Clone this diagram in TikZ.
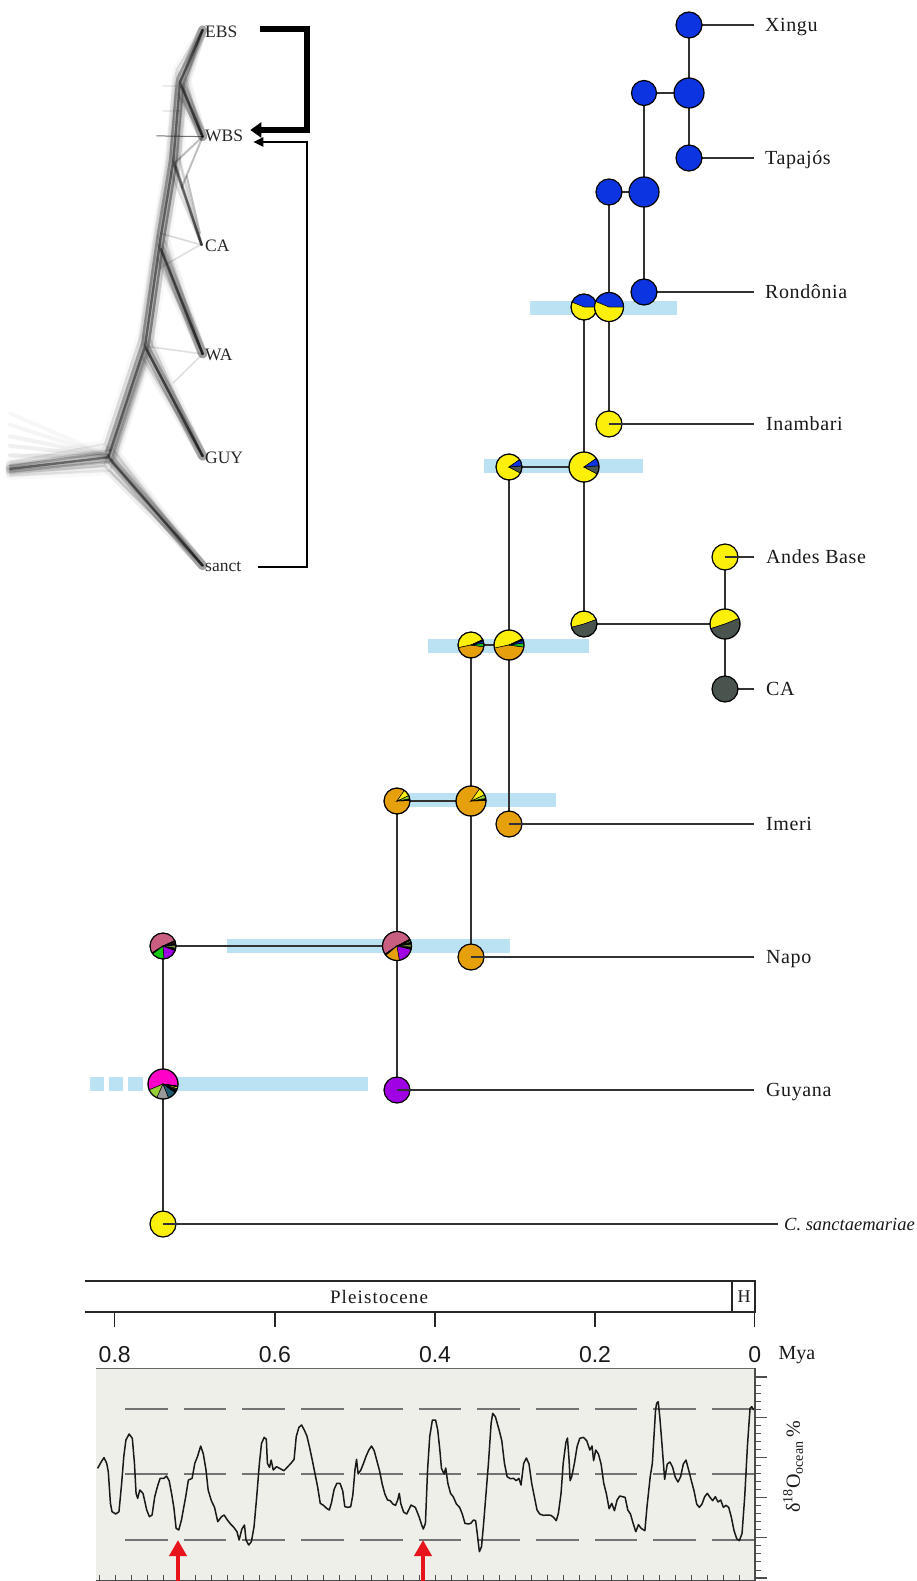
\documentclass[tikz,border=0pt]{standalone}
\usepackage{fontspec}
\setmainfont{Liberation Serif}
\newfontfamily\tipfam[LetterSpace=3]{Liberation Serif}
\newfontfamily\pleifam[LetterSpace=6]{Liberation Serif}
\newfontfamily\axisfam{Liberation Sans}
\usetikzlibrary{arrows.meta}
\pgfdeclarelayer{bars}
\pgfdeclarelayer{edges}
\pgfsetlayers{bars,edges,main}
\definecolor{nblue}{RGB}{12,52,225}
\definecolor{nyellow}{RGB}{252,240,10}
\definecolor{norange}{RGB}{230,160,12}
\definecolor{ngray}{RGB}{74,84,78}
\definecolor{npurple}{RGB}{160,0,228}
\definecolor{nmauve}{RGB}{200,95,128}
\definecolor{nmagenta}{RGB}{255,0,200}
\definecolor{ngreen}{RGB}{20,200,20}
\definecolor{nygreen}{RGB}{150,208,50}
\definecolor{nteal}{RGB}{30,90,110}
\definecolor{nolive}{RGB}{110,140,60}
\definecolor{barblue}{RGB}{187,226,242}
\definecolor{panelbg}{RGB}{238,239,233}
\definecolor{arrowred}{RGB}{232,20,28}
\definecolor{linegray}{RGB}{50,50,50}
\newcommand{\tipfont}{\tipfam\fontsize{20}{24}\selectfont}
\newcommand{\treefont}{\fontsize{17.5}{20}\selectfont}
\newcommand{\pw}[3]{\filldraw[fill=#3,draw=black,line width=0.5pt] (0,0) -- (#1:\pr) arc[start angle=#1,end angle=#2,radius=\pr] -- cycle;}
\newcommand{\pienode}[5]{%
  \node[state, minimum size=#4*2pt] (#1) at (#2,#3) {};
  \begin{scope}[shift={(#2,#3)}, yscale=-1]\def\pr{#4}#5\end{scope}
  \draw[line width=1.2pt] (#2,#3) circle[radius=#4];}
\begin{document}
\begin{tikzpicture}[x=1pt,y=-1pt,
  branch/.style={draw=linegray, line width=1.6pt},
  state/.style={circle, inner sep=0pt, outer sep=0pt},
  tip/.style={state, draw=black, line width=1.2pt, minimum size=26pt},
  tiplabel/.style={anchor=west, inner sep=0pt, text height=13pt, text depth=0pt, font=\tipfont, text=black!90},
  treelabel/.style={anchor=base west, inner sep=0pt, text height=11pt, text depth=0pt, font=\treefont, text=black!85},
  axisnum/.style={inner sep=0pt, font=\axisfam\fontsize{23}{26}\selectfont, text=black!90},
  dashline/.style={draw=black!55, line width=1.1pt, dash pattern=on 42.7pt off 16pt}]
\useasboundingbox (0,0) rectangle (917,1581);

% ---------------- DensiTree (upper left) ----------------
\begin{scope}[xscale=0.33333, yscale=0.3827, line cap=round, line join=round]
  \foreach \yy/\oo in {1080/0.03,1110/0.04,1140/0.05,1165/0.06,1190/0.08}{
    \draw[black, opacity=\oo, line width=4pt] (30,\yy) -- (325,1192);}
  \foreach \a/\b/\o in {0/0/0.45, 8/12/0.18, -8/-12/0.18, 14/-20/0.12, -12/22/0.12, 5/35/0.07, -10/-35/0.07, 18/5/0.07}{
    \draw[black, opacity=\o, line width=2.4pt]
      (30,1225+\b*0.5) -- (325+\a,1195+\b) -- (608,1478)
      (325+\a,1195+\b) -- (435+\a,905+\b) -- (608,1192)
      (435+\a,905+\b) -- (482+\a,620+\b) -- (520+\a,420+\b) -- (540+\a,215+\b) -- (608,78)
      (482+\a,650+\b) -- (608,925)
      (520+\a,420+\b) -- (605,640)
      (540+\a,215+\b) -- (608,357);
    \draw[black, opacity=\o*0.35, line width=9pt]
      (30,1225+\b*0.5) -- (325+\a,1195+\b) -- (608,1478)
      (325+\a,1195+\b) -- (435+\a,905+\b) -- (608,1192)
      (435+\a,905+\b) -- (482+\a,620+\b) -- (520+\a,420+\b) -- (540+\a,215+\b) -- (608,78)
      (482+\a,650+\b) -- (608,925)
      (540+\a,215+\b) -- (608,357);
  }
  \draw[black, opacity=0.12, line width=1.6pt] (440,905) -- (608,925);
  \draw[black, opacity=0.12, line width=1.6pt] (520,1000) -- (608,925);
  \draw[black, opacity=0.15, line width=1.6pt] (482,610) -- (605,640);
  \draw[black, opacity=0.12, line width=1.6pt] (480,700) -- (600,640);
  \draw[black, opacity=0.25, line width=2pt] (545,490) -- (608,357);
  \draw[black, opacity=0.25, line width=2pt] (525,425) -- (608,357);
  \draw[black, opacity=0.25, line width=2pt] (560,460) -- (600,610);
  \draw[black, opacity=0.55, line width=1pt] (470,355) -- (608,357);
  \draw[black, opacity=0.08, line width=2pt] (490,290) -- (540,290);
  \draw[black, opacity=0.08, line width=2pt] (490,225) -- (530,225);
\end{scope}

\node[treelabel] (tEBS) at (205,38) {EBS};
\node[treelabel] (tWBS) at (205,142) {WBS};
\node[treelabel] (tCA) at (205,251) {CA};
\node[treelabel] (tWA) at (205,360) {WA};
\node[treelabel] (tGUY) at (205,463) {GUY};
\node[treelabel] (tsanct) at (205,571) {sanct};
\coordinate (bxl) at (260,0);
\coordinate (bxs) at (258,0);
\coordinate (bxr) at (307,0);
\draw[line width=6.5pt, line join=miter, -{Triangle[width=15pt,length=11pt]}]
  ([yshift=3.5pt]tEBS.east -| bxl) -- ([yshift=3.5pt]tEBS.east -| bxr) |- ([xshift=7pt,yshift=6.5pt]tWBS.east);
\draw[line width=2pt, line join=miter, -{Triangle[width=9pt,length=10pt]}]
  ([yshift=-1pt]tsanct.east -| bxs) -- ([yshift=-1pt]tsanct.east -| bxr) |- ([xshift=10pt,yshift=-5.5pt]tWBS.east);

% ---------------- HPD bars ----------------
\begin{pgfonlayer}{bars}
  \fill[barblue] (530,301) rectangle (677,315);
  \fill[barblue] (484,459) rectangle (643,473);
  \fill[barblue] (428,639) rectangle (589,653);
  \fill[barblue] (403,793) rectangle (556,807);
  \fill[barblue] (227,939) rectangle (510,953);
  \fill[barblue] (148,1077) rectangle (368,1091);
  \fill[barblue] (90,1077) rectangle (104,1091);
  \fill[barblue] (109,1077) rectangle (123,1091);
  \fill[barblue] (128,1077) rectangle (143,1091);
\end{pgfonlayer}

% ---------------- tip and node circles ----------------
\node[tip, fill=nblue] (xingu) at (689,25) {};
\node[tip, fill=nblue] (tapajos) at (689,158) {};
\node[tip, fill=nblue, minimum size=30pt] (n1) at (689,93) {};
\node[tip, fill=nblue, minimum size=25pt] (n1L) at (644,93) {};
\node[tip, fill=nblue, minimum size=30pt] (n2) at (644,192) {};
\node[tip, fill=nblue] (n2L) at (609,192) {};
\node[tip, fill=nblue] (rondonia) at (644,292) {};
\node[tip, fill=nyellow] (inambari) at (609,424) {};
\node[tip, fill=nyellow] (andes) at (725,557) {};
\node[tip, fill=ngray] (ca) at (725,689) {};
\node[tip, fill=norange] (imeri) at (509,824) {};
\node[tip, fill=norange] (napo) at (471,957) {};
\node[tip, fill=npurple] (guyana) at (397,1090) {};
\node[tip, fill=nyellow] (cs) at (163,1224) {};

\pienode{p1}{584}{307}{13}{\pw{0}{158}{nblue}\pw{158}{360}{nyellow}}
\pienode{p2}{609}{307}{14.5}{\pw{0}{158}{nblue}\pw{158}{360}{nyellow}}
\pienode{p3}{509}{467}{13}{\pw{35}{332}{nyellow}\pw{332}{365}{ngray}\pw{5}{35}{nblue}}
\pienode{p4}{584}{467}{15}{\pw{35}{332}{nyellow}\pw{332}{365}{ngray}\pw{5}{35}{nblue}}
\pienode{p5}{584}{624}{13}{\pw{20}{195}{nyellow}\pw{195}{380}{ngray}}
\pienode{p6}{725}{624}{15}{\pw{22}{198}{nyellow}\pw{198}{382}{ngray}}
\pienode{p7}{471}{645}{13}{\pw{25}{192}{nyellow}\pw{192}{352}{norange}\pw{352}{368}{ngreen}\pw{8}{18}{nblue}\pw{18}{25}{black}}
\pienode{p8}{509}{645}{15}{\pw{25}{192}{nyellow}\pw{192}{352}{norange}\pw{352}{368}{ngreen}\pw{8}{18}{nblue}\pw{18}{25}{black}}
\pienode{p9}{397}{801}{13}{\pw{55}{362}{norange}\pw{2}{10}{black}\pw{10}{25}{nygreen}\pw{25}{55}{nyellow}}
\pienode{p10}{471}{801}{15}{\pw{55}{362}{norange}\pw{2}{10}{black}\pw{10}{25}{nygreen}\pw{25}{55}{nyellow}}
\pienode{p11}{397}{946}{14.5}{\pw{28}{214}{nmauve}\pw{214}{220}{black}\pw{220}{280}{norange}\pw{280}{347}{npurple}\pw{347}{356}{black}\pw{356}{368}{nolive}\pw{8}{16}{black}\pw{16}{22}{nygreen}\pw{22}{28}{black}}
\pienode{p12}{163}{946}{13}{\pw{25}{212}{nmauve}\pw{212}{218}{black}\pw{218}{275}{ngreen}\pw{275}{340}{npurple}\pw{340}{350}{black}\pw{350}{365}{nolive}\pw{5}{14}{black}\pw{14}{20}{nmauve}\pw{20}{25}{black}}
\pienode{p13}{163}{1084}{15}{\pw{-8}{203}{nmagenta}\pw{203}{246}{nygreen}\pw{246}{292}{gray!80}\pw{292}{325}{nteal}\pw{325}{335}{black}\pw{335}{342}{nteal!60!black}\pw{342}{349}{nyellow}\pw{349}{352}{black}}

% ---------------- tip labels ----------------
\node[tiplabel] (lxingu) at (765,25) {Xingu};
\node[tiplabel] (ltapajos) at (765,158) {Tapajós};
\node[tiplabel] (lrondonia) at (765,292) {Rondônia};
\node[tiplabel] (linambari) at (766,424) {Inambari};
\node[tiplabel] (landes) at (766,557) {Andes Base};
\node[tiplabel] (lca) at (766,689) {CA};
\node[tiplabel] (limeri) at (766,824) {Imeri};
\node[tiplabel] (lnapo) at (766,957) {Napo};
\node[tiplabel] (lguyana) at (766,1090) {Guyana};
\node[anchor=west, inner sep=0pt, text height=13pt, text depth=0pt, font=\fontsize{18.5}{22}\selectfont\itshape, text=black!90] (lcs) at (784,1224) {C. sanctaemariae};

% ---------------- branches ----------------
\begin{pgfonlayer}{edges}
  \draw[branch] (xingu.center) -- ([xshift=-11pt]lxingu.west);
  \draw[branch] (tapajos.center) -- ([xshift=-11pt]ltapajos.west);
  \draw[branch] (rondonia.center) -- ([xshift=-11pt]lrondonia.west);
  \draw[branch] (ca.center) -- ([xshift=-12pt]lca.west);
  \draw[branch] (xingu.center) -- (tapajos.center);
  \draw[branch] (n1L.center) -- (n1.center);
  \draw[branch] (n1L.center) -- (rondonia.center);
  \draw[branch] (n2L.center) -- (n2.center);
  \draw[branch] (n2L.center) -- (inambari.center);
  \draw[branch] (p1.center) -- (p2.center);
  \draw[branch] (p1.center) -- (p5.center);
  \draw[branch] (p3.center) -- (p4.center);
  \draw[branch] (p3.center) -- (imeri.center);
  \draw[branch] (p5.center) -- (p6.center);
  \draw[branch] (andes.center) -- (ca.center);
  \draw[branch] (p7.center) -- (p8.center);
  \draw[branch] (p7.center) -- (napo.center);
  \draw[branch] (p9.center) -- (p10.center);
  \draw[branch] (p9.center) -- (guyana.center);
  \draw[branch] (p12.center) -- (p11.center);
  \draw[branch] (p12.center) -- (cs.center);
\end{pgfonlayer}
\draw[branch] (inambari.center) -- ([xshift=-12pt]linambari.west);
\draw[branch] (andes.center) -- ([xshift=-12pt]landes.west);
\draw[branch] (imeri.center) -- ([xshift=-12pt]limeri.west);
\draw[branch] (napo.center) -- ([xshift=-12pt]lnapo.west);
\draw[branch] (guyana.center) -- ([xshift=-12pt]lguyana.west);
\draw[branch] (cs.center) -- ([xshift=-6pt]lcs.west);

% ---------------- time scale ----------------
\draw[line width=1.3pt, draw=black!85] (85,1281) -- (755,1281) -- (755,1312) -- (85,1312);
\draw[line width=1.3pt, draw=black!85] (732,1281) -- (732,1312);
\node[inner sep=0pt, font=\pleifam\fontsize{19}{22}\selectfont, text=black!90] (plei) at (379,1297) {Pleistocene};
\node[inner sep=0pt, font=\fontsize{18}{22}\selectfont, text=black!90] (holo) at (744,1297) {H};
\foreach \t/\x in {0.8/114.7, 0.6/274.9, 0.4/435, 0.2/595, 0/754.8}{
  \draw[line width=1.3pt, draw=black!85] (\x,1312) -- (\x,1327);
  \node[axisnum] at (\x,1355) {\t};
}
\node[inner sep=0pt, font=\fontsize{20}{24}\selectfont, text=black!90] (mya) at (797,1355) {Mya};

% ---------------- delta 18O panel ----------------
\fill[panelbg] (96,1368) rectangle (755,1581);
\draw[black!60, line width=1pt] (96,1368) -- (755,1368);
\draw[dashline] (125,1409) -- (755,1409);
\draw[dashline] (125,1474) -- (755,1474);
\draw[dashline] (125,1540) -- (755,1540);
\draw[black!70, line width=1.2pt] (755,1368) -- (755,1581);
\foreach \k in {0,...,26}{
  \draw[black!70, line width=0.9pt] (755,1377+\k*8.04) -- (761,1377+\k*8.04);}
\foreach \k in {0,...,5}{
  \draw[black!70, line width=1.1pt] (755,1377+\k*40.2) -- (767,1377+\k*40.2);}
\draw[black!70, line width=1pt] (96,1580) -- (755,1580);
\foreach \k in {0,...,41}{
  \draw[black!70, line width=0.8pt] (99+\k*16,1580) -- (99+\k*16,1575);}
\begin{scope}[shift={(80,1230)}, xscale=0.5339, yscale=0.33333]
\draw[black!90, line width=1.5pt, line join=round] plot coordinates {
(33,715) (40,695) (45,683) (50,700) (53,725) (57,820) (60,845) (67,852) (73,845) (78,760) (82,680) (86,630) (92,612) (98,625) (102,700) (105,790) (108,805) (112,780) (118,790) (125,840) (130,860) (135,855) (140,800) (145,770) (150,745) (157,745) (162,738) (167,752) (172,795) (176,835) (180,895) (185,900) (190,870) (198,800) (203,750) (210,745) (215,700) (220,680) (226,648) (231,672) (236,720) (240,780) (246,812) (252,832) (258,875) (265,860) (270,855) (276,870) (282,882) (288,892) (294,905) (298,930) (303,898) (308,885) (311,930) (316,945) (321,935) (326,890) (331,800) (336,700) (340,640) (345,622) (349,628) (351,700) (355,712) (358,690) (362,720) (368,710) (375,716) (382,722) (388,712) (395,700) (401,688) (405,620) (410,592) (415,585) (420,600) (425,618) (430,652) (435,690) (440,730) (445,770) (450,820) (456,826) (462,835) (467,840) (471,818) (476,778) (481,760) (487,760) (492,782) (496,830) (502,832) (507,830) (511,795) (515,720) (518,688) (521,732) (526,720) (531,700) (536,678) (541,660) (546,648) (551,662) (556,692) (561,722) (566,762) (571,792) (576,810) (581,812) (586,822) (591,826) (595,810) (598,790) (601,822) (606,846) (612,852) (620,825) (628,832) (635,860) (640,885) (643,897) (647,880) (651,720) (655,620) (660,570) (666,570) (670,600) (674,660) (677,715) (682,732) (685,714) (689,760) (694,790) (699,800) (705,822) (711,832) (716,852) (721,880) (727,882) (732,880) (737,870) (741,872) (744,910) (748,965) (752,950) (756,880) (760,800) (765,700) (770,580) (773,550) (778,560) (785,600) (790,632) (795,700) (800,740) (806,746) (812,745) (817,752) (822,745) (826,765) (831,700) (836,684) (841,702) (846,760) (851,800) (856,840) (861,852) (868,856) (876,855) (882,856) (887,862) (892,872) (896,850) (901,790) (905,700) (910,638) (913,624) (916,690) (918,752) (921,740) (926,700) (931,650) (936,625) (943,622) (949,632) (955,660) (959,648) (962,692) (966,660) (971,672) (976,702) (981,760) (986,792) (991,836) (996,820) (1001,842) (1006,810) (1011,798) (1016,800) (1021,802) (1026,840) (1031,852) (1036,880) (1041,905) (1046,884) (1051,895) (1058,902) (1062,830) (1068,740) (1072,700) (1075,620) (1078,540) (1080,520) (1083,515) (1086,562) (1090,642) (1095,748) (1100,702) (1105,696) (1110,712) (1115,742) (1120,756) (1125,740) (1130,702) (1135,690) (1140,720) (1145,752) (1150,782) (1155,822) (1160,832) (1165,822) (1170,800) (1175,790) (1180,802) (1185,812) (1190,800) (1195,816) (1200,810) (1205,832) (1210,826) (1215,832) (1220,862) (1225,902) (1230,926) (1235,932) (1240,910) (1245,800) (1250,650) (1253,580) (1255,535) (1258,530) (1262,540)};
\end{scope}
\draw[arrowred, line width=3.8pt, -{Triangle[width=17pt,length=16pt]}] (178,1581) -- (178,1540);
\draw[arrowred, line width=3.8pt, -{Triangle[width=17pt,length=16pt]}] (423,1581) -- (423,1540);
\node[rotate=90, inner sep=0pt, font=\fontsize{20}{24}\selectfont, text=black!90] (dlabel) at (793,1467) {δ\textsuperscript{18}O\textsubscript{ocean}\,\%};
\end{tikzpicture}
\end{document}
